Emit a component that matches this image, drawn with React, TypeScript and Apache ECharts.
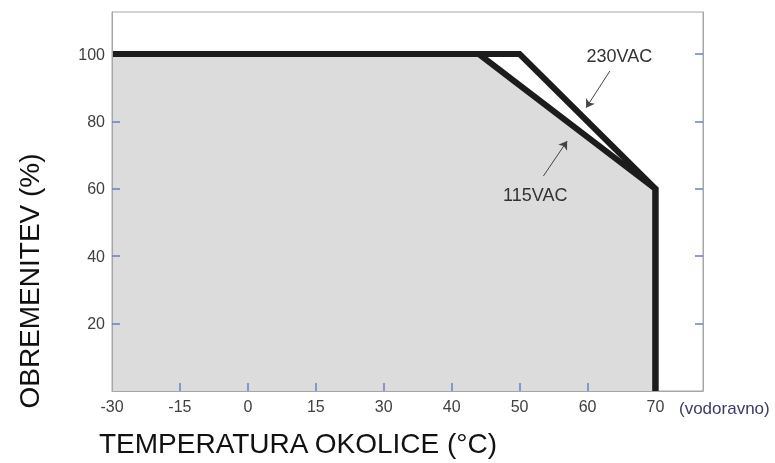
import React, { useEffect, useRef } from "react";
import * as echarts from "echarts";

// Equally spaced temperature ticks (non-linear scale)
const xTickTemps = [-30, -15, 0, 15, 30, 40, 50, 60, 70];
const yTickValues = [20, 40, 60, 80, 100];
const yLeftTickValues = [20, 40, 60, 80];

// Derating curves (temperature °C, load %)
const temp115 = [-30, 44, 70, 70];
const load115 = [100, 100, 60, 0];
const temp230 = [-30, 50, 70, 70];
const load230 = [100, 100, 60, 0];

// Annotations
const annotationNames = ["230VAC", "115VAC"];
const annotationTemp = [64.7, 52.3];
const annotationLoad = [99.3, 58.3];
const arrowTailTemp = [63.3, 53.5];
const arrowTailLoad = [95.0, 63.8];
const arrowHeadTemp = [59.8, 57.0];
const arrowHeadLoad = [84.1, 74.2];

const FONT = '"Liberation Sans", Arial, Helvetica, sans-serif';

function tempToIdx(t: number): number {
  for (let i = 0; i < xTickTemps.length - 1; i++) {
    const a = xTickTemps[i];
    const b = xTickTemps[i + 1];
    if (t <= b || i === xTickTemps.length - 2) {
      return i + (t - a) / (b - a);
    }
  }
  return 0;
}

export default function App() {
  const ref = useRef<HTMLDivElement>(null);
  useEffect(() => {
    if (!ref.current) return;
    const chart = echarts.init(ref.current, null, { renderer: "svg" });
    const tickColor = "#6a7fc4";
    const borderColor = "#a6a6a6";
    const d115 = temp115.map((t, i) => [tempToIdx(t), load115[i]]);
    const d230 = temp230.map((t, i) => [tempToIdx(t), load230[i]]);
    const tickIdx = xTickTemps.map((_, i) => i);
    chart.setOption({
      animation: false,
      grid: {
        left: 112,
        top: 12,
        right: 72,
        bottom: 72,
        show: true,
        borderColor: borderColor,
        borderWidth: 1,
        backgroundColor: "transparent",
      },
      xAxis: {
        type: "value",
        min: 0,
        max: 8.7,
        interval: 1,
        z: 5,
        splitLine: { show: false },
        axisLine: { show: true, lineStyle: { color: borderColor, width: 1 } },
        axisTick: {
          show: true,
          inside: true,
          length: 8,
          lineStyle: { color: tickColor, width: 1.5 },
          customValues: tickIdx.slice(1, tickIdx.length - 1),
        },
        axisLabel: {
          show: true,
          margin: 7,
          color: "#404040",
          fontSize: 16,
          fontFamily: FONT,
          customValues: tickIdx,
          formatter: (v: number) => {
            const i = Math.round(v);
            return Math.abs(v - i) < 1e-6 && xTickTemps[i] !== undefined ? String(xTickTemps[i]) : "";
          },
        },
      },
      yAxis: [
        {
          type: "value",
          min: 0,
          max: 112.5,
          interval: 20,
          z: 5,
          splitLine: { show: false },
          axisLine: { show: true, lineStyle: { color: borderColor, width: 1 } },
          axisTick: {
            show: true,
            inside: true,
            length: 8,
            lineStyle: { color: tickColor, width: 1.5 },
            customValues: yLeftTickValues,
          },
          axisLabel: {
            show: true,
            margin: 7,
            color: "#404040",
            fontSize: 16,
            fontFamily: FONT,
            customValues: yTickValues,
          },
        },
        {
          type: "value",
          position: "right",
          min: 0,
          max: 112.5,
          interval: 20,
          z: 5,
          splitLine: { show: false },
          axisLine: { show: true, lineStyle: { color: borderColor, width: 1 } },
          axisTick: {
            show: true,
            inside: true,
            length: 8,
            lineStyle: { color: tickColor, width: 1.5 },
            customValues: yTickValues,
          },
          axisLabel: { show: false },
        },
      ],
      series: [
        {
          name: "115VAC",
          type: "line",
          data: d115,
          symbol: "none",
          z: 2,
          lineStyle: { color: "#1c1c1c", width: 6, join: "miter", cap: "butt" },
          areaStyle: { color: "#dcdcdc", opacity: 1, origin: "start" },
        },
        {
          name: "230VAC",
          type: "line",
          data: d230,
          symbol: "none",
          z: 3,
          lineStyle: { color: "#1c1c1c", width: 6, join: "miter", cap: "butt" },
          markLine: {
            silent: true,
            symbol: ["none", "arrow"],
            symbolSize: 8,
            label: { show: false },
            itemStyle: { color: "#444444" },
            lineStyle: { color: "#444444", width: 1, type: "solid" },
            data: annotationNames.map((_, i) => [
              { coord: [tempToIdx(arrowTailTemp[i]), arrowTailLoad[i]] },
              { coord: [tempToIdx(arrowHeadTemp[i]), arrowHeadLoad[i]] },
            ]),
          },
          markPoint: {
            silent: true,
            symbol: "circle",
            symbolSize: 1,
            itemStyle: { color: "rgba(0,0,0,0)" },
            label: {
              show: true,
              position: "inside",
              color: "#333333",
              fontSize: 18,
              fontFamily: FONT,
              formatter: (p: any) => p.name,
            },
            data: annotationNames.map((n, i) => ({
              name: n,
              coord: [tempToIdx(annotationTemp[i]), annotationLoad[i]],
            })),
          },
        },
      ],
      graphic: [
        {
          type: "text",
          x: 298,
          y: 443,
          style: {
            text: "TEMPERATURA OKOLICE (°C)",
            fill: "#111111",
            fontSize: 28,
            fontFamily: FONT,
            align: "center",
            verticalAlign: "middle",
          },
        },
        {
          type: "text",
          x: 29,
          y: 281,
          rotation: Math.PI / 2,
          style: {
            text: "OBREMENITEV (%)",
            fill: "#111111",
            fontSize: 28,
            fontFamily: FONT,
            align: "center",
            verticalAlign: "middle",
          },
        },
        {
          type: "text",
          x: 679,
          y: 408,
          style: {
            text: "(vodoravno)",
            fill: "#3b3b6b",
            fontSize: 17,
            fontFamily: FONT,
            align: "left",
            verticalAlign: "middle",
          },
        },
      ],
    });
    return () => chart.dispose();
  }, []);
  return (
    <div
      ref={ref}
      style={{ position: "fixed", left: 0, top: 0, width: 775, height: 463 }}
    />
  );
}
